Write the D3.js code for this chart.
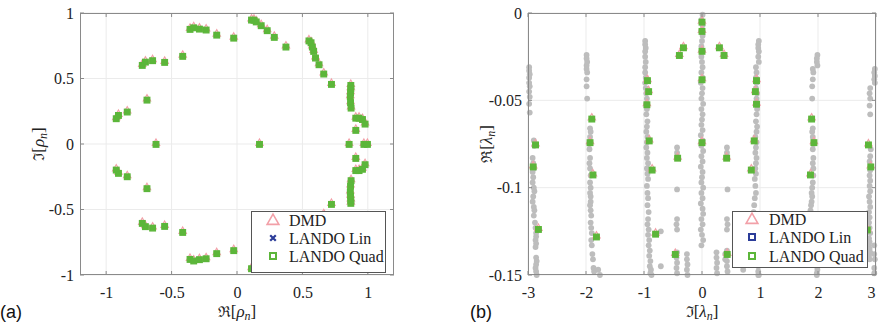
<!DOCTYPE html>
<html><head><meta charset="utf-8">
<script src="https://cdn.jsdelivr.net/npm/d3@7"></script>
<style>body{margin:0;background:#fff}svg{display:block}</style>
</head><body><div id="chart"></div>
<script>
// ---------- DATA ----------
// Panel (a): discrete-time eigenvalues rho_n (real, imag)
const rhoRe = [-0.923,-0.906,-0.839,-0.688,-0.724,-0.70,-0.645,-0.553,-0.415,-0.359,-0.331,-0.287,-0.236,-0.155,-0.025,
  0.111,0.13,0.147,0.185,0.231,0.285,0.374,0.55,0.566,0.576,0.586,0.60,0.627,0.663,0.722,
  0.87,0.87,0.868,0.866,0.868,0.872,0.908,0.933,0.959,0.979,0.908,
  -0.923,-0.906,-0.839,-0.688,-0.724,-0.70,-0.645,-0.553,-0.415,-0.359,-0.331,-0.287,-0.236,-0.155,-0.025,
  0.111,0.13,0.147,0.185,0.231,0.285,0.374,0.55,0.566,0.576,0.586,0.60,0.627,0.663,0.722,
  0.87,0.87,0.868,0.866,0.868,0.872,0.908,0.933,0.959,0.979,0.908,
  -0.619,0.172,0.857,0.97,0.997];
const rhoIm = [0.196,0.221,0.247,0.338,0.603,0.628,0.639,0.626,0.672,0.878,0.89,0.88,0.873,0.834,0.811,
  0.949,0.948,0.935,0.906,0.868,0.817,0.743,0.79,0.776,0.743,0.71,0.659,0.608,0.537,0.458,
  0.45,0.425,0.395,0.364,0.318,0.277,0.2,0.2,0.19,0.155,0.107,
  -0.196,-0.221,-0.247,-0.338,-0.603,-0.628,-0.639,-0.626,-0.672,-0.878,-0.89,-0.88,-0.873,-0.834,-0.811,
  -0.949,-0.948,-0.935,-0.906,-0.868,-0.817,-0.743,-0.79,-0.776,-0.743,-0.71,-0.659,-0.608,-0.537,-0.458,
  -0.45,-0.425,-0.395,-0.364,-0.318,-0.277,-0.2,-0.2,-0.19,-0.155,-0.107,
  0,0,0,0,0];

// Panel (b): continuous-time eigenvalues lambda_n (imag on x, real on y)
const lamIm = [-2.87,-2.91,-2.82,-1.90,-1.93,-1.88,-1.82,-0.94,-0.92,-0.95,-0.91,-0.86,-0.80,
  -0.39,-0.32,-0.42,-0.46,0,0,0,0,0,0.30,0.38,0.425,0.435,
  0.94,0.92,0.94,0.90,0.85,0.80,1.89,1.93,1.87,1.82,2.87,2.91,2.85];
const lamRe = [-0.0753,-0.0879,-0.1237,-0.0605,-0.074,-0.0925,-0.128,-0.0385,-0.0448,-0.0523,-0.073,-0.0897,-0.1264,
  -0.0241,-0.0197,-0.0829,-0.138,-0.005,-0.0103,-0.0217,-0.038,-0.074,-0.0197,-0.0241,-0.0829,-0.138,
  -0.0385,-0.0448,-0.052,-0.073,-0.0897,-0.1264,-0.0605,-0.074,-0.0925,-0.128,-0.0753,-0.0879,-0.124];

// grey background eigenvalues (imag on x, real on y)
const greyIm = [
  -2.98,-2.98,-2.97,-2.98,-2.98,-2.97,-2.98,-2.97,-2.98,-2.97,
  -2.90,-2.89,-2.92,-2.91,-2.90,-2.92,-2.91,-2.92,-2.90,-2.89,-2.91,-2.92,-2.90,-2.89,-2.90,-2.88,-2.87,-2.86,-2.86,-2.87,-2.86,-2.87,-2.86,-2.85,-2.86,-2.87,-2.86,-2.85,
  -1.99,-1.99,-1.98,-1.99,-1.99,-1.98,-1.99,-1.99,-1.98,
  -1.93,-1.92,-1.93,-1.94,-1.94,-1.93,-1.94,-1.93,-1.92,-1.93,-1.92,-1.93,-1.92,-1.92,-1.93,-1.92,-1.91,-1.92,-1.91,-1.90,-1.91,-1.90,-1.89,-1.88,-1.87,-1.86,-1.79,-1.76,
  -0.98,-0.98,-0.97,-0.98,-0.98,-0.97,-0.98,-0.98,-0.97,-0.98,-0.97,
  -0.96,-0.95,-0.96,-0.95,-0.96,-0.94,-0.95,-0.96,-0.94,-0.95,-0.96,-0.94,-0.95,-0.93,-0.95,-0.94,-0.93,-0.95,-0.94,-0.93,-0.94,-0.92,-0.93,-0.94,-0.92,-0.93,-0.91,-0.92,-0.90,-0.91,-0.89,-0.90,-0.88,-0.89,-0.87,
  -0.71,-0.71,
  -0.43,-0.43,-0.43,-0.43,-0.44,-0.43,-0.43,-0.44,-0.43,-0.44,-0.43,
  -0.26,-0.26,-0.25,-0.26,-0.25,
  0.01,-0.01,0.01,-0.01,0.01,0.0,-0.01,0.01,-0.01,0.0,0.01,-0.01,0.01,-0.02,0.01,0.0,-0.01,0.02,-0.01,0.01,0.0,-0.01,0.01,-0.02,0.01,
  -0.01,0.02,-0.01,0.01,-0.02,0.01,0.0,-0.01,0.02,-0.01,0.01,-0.02,0.01,0.02,-0.01,0.01,-0.02,0.0,0.02,-0.01,
  0.43,0.43,0.43,0.43,0.44,0.43,0.43,0.44,0.43,0.44,0.43,
  0.25,0.25,0.26,0.25,0.26,0.40,0.40,
  0.71,0.71,
  0.97,0.97,0.98,0.97,0.97,0.98,0.97,0.97,0.98,0.97,0.98,
  0.93,0.94,0.93,0.94,0.93,0.95,0.94,0.93,0.95,0.94,0.93,0.95,0.94,0.92,0.94,0.93,0.92,0.94,0.93,0.92,0.93,0.91,0.92,0.93,0.91,0.90,0.89,0.90,0.88,0.87,0.88,0.86,0.85,0.86,0.85,
  1.98,1.98,1.99,1.98,1.98,1.99,1.98,1.98,1.99,
  1.91,1.92,1.91,1.90,1.90,1.91,1.90,1.91,1.92,1.91,1.92,1.91,1.92,1.92,1.91,1.90,1.89,1.90,1.89,1.88,1.87,1.86,1.85,1.84,1.83,1.82,
  2.97,2.97,2.98,2.97,2.97,2.98,2.97,2.98,2.97,2.98,
  2.90,2.89,2.90,2.89,2.90,2.91,2.90,2.89,2.90,2.89,2.90,2.89,2.90,2.88,2.89,2.90,2.88,2.89,2.88,2.89,2.90,2.88,2.89,2.88,2.89,2.90,2.88,2.89];
const greyRe = [
  -0.031,-0.033,-0.035,-0.037,-0.040,-0.042,-0.045,-0.048,-0.052,-0.057,
  -0.073,-0.076,-0.083,-0.086,-0.089,-0.091,-0.094,-0.097,-0.100,-0.102,-0.105,-0.108,-0.111,-0.113,-0.116,-0.120,-0.123,-0.126,-0.128,-0.130,-0.132,-0.134,-0.140,-0.142,-0.144,-0.146,-0.148,-0.150,
  -0.024,-0.026,-0.028,-0.030,-0.032,-0.034,-0.038,-0.042,-0.049,
  -0.066,-0.068,-0.071,-0.075,-0.078,-0.083,-0.086,-0.089,-0.093,-0.097,-0.100,-0.103,-0.105,-0.108,-0.110,-0.113,-0.116,-0.120,-0.123,-0.126,-0.130,-0.133,-0.138,-0.141,-0.146,-0.148,-0.147,-0.150,
  -0.016,-0.018,-0.020,-0.022,-0.025,-0.028,-0.031,-0.034,-0.037,-0.040,-0.043,
  -0.046,-0.049,-0.052,-0.055,-0.058,-0.062,-0.065,-0.068,-0.071,-0.074,-0.077,-0.080,-0.083,-0.086,-0.089,-0.092,-0.095,-0.099,-0.103,-0.106,-0.110,-0.114,-0.118,-0.121,-0.124,-0.127,-0.130,-0.133,-0.136,-0.139,-0.142,-0.145,-0.147,-0.149,-0.150,
  -0.125,-0.145,
  -0.077,-0.080,-0.101,-0.118,-0.121,-0.124,-0.137,-0.140,-0.143,-0.146,-0.149,
  -0.138,-0.141,-0.144,-0.147,-0.150,
  -0.001,-0.004,-0.007,-0.010,-0.013,-0.016,-0.019,-0.022,-0.025,-0.028,-0.031,-0.034,-0.037,-0.040,-0.043,-0.046,-0.049,-0.052,-0.055,-0.058,-0.061,-0.064,-0.067,-0.070,-0.073,
  -0.076,-0.079,-0.082,-0.085,-0.088,-0.091,-0.094,-0.097,-0.100,-0.103,-0.106,-0.109,-0.112,-0.115,-0.118,-0.121,-0.124,-0.127,-0.130,-0.133,-0.136,-0.139,-0.142,-0.145,-0.148,
  -0.077,-0.080,-0.101,-0.118,-0.121,-0.124,-0.137,-0.140,-0.143,-0.146,-0.149,
  -0.138,-0.141,-0.144,-0.147,-0.150,-0.148,-0.150,
  -0.125,-0.145,
  -0.016,-0.018,-0.020,-0.022,-0.025,-0.028,-0.031,-0.034,-0.037,-0.040,-0.043,
  -0.046,-0.049,-0.052,-0.055,-0.058,-0.062,-0.065,-0.068,-0.071,-0.074,-0.077,-0.080,-0.083,-0.086,-0.089,-0.092,-0.095,-0.099,-0.103,-0.106,-0.110,-0.114,-0.118,-0.121,-0.124,-0.127,-0.130,-0.133,-0.136,-0.139,-0.142,-0.145,-0.147,-0.149,-0.150,
  -0.024,-0.026,-0.028,-0.030,-0.032,-0.034,-0.038,-0.042,-0.049,
  -0.066,-0.068,-0.071,-0.075,-0.078,-0.083,-0.086,-0.089,-0.093,-0.097,-0.100,-0.103,-0.105,-0.108,-0.110,-0.113,-0.116,-0.120,-0.123,-0.126,-0.130,-0.133,-0.138,-0.141,-0.146,-0.149,
  -0.032,-0.034,-0.036,-0.038,-0.040,-0.043,-0.046,-0.049,-0.053,-0.058,
  -0.078,-0.082,-0.085,-0.090,-0.093,-0.096,-0.099,-0.102,-0.105,-0.108,-0.111,-0.114,-0.117,-0.120,-0.123,-0.126,-0.129,-0.131,-0.133,-0.135,-0.137,-0.139,-0.141,-0.143,-0.145,-0.147,-0.149,-0.150];

const ticksAx = [-1,-0.5,0,0.5,1], ticksAy = [-1,-0.5,0,0.5,1];
const ticksBx = [-3,-2,-1,0,1,2,3], ticksBy = [-0.15,-0.1,-0.05,0];
const legendLabels = ["DMD","LANDO Lin","LANDO Quad"];

// ---------- DRAW ----------
const W=878,H=324;
const svg=d3.select("#chart").append("svg").attr("width",W).attr("height",H);
const SERIF="'Liberation Serif','Times New Roman',serif";
const GREEN="#5cb63a", PINK="#f2a0a8", BLUE="#2b3c99", GREY="#bdbdbd", BOX="#8a8a8a";

function panel(x0,x1,y0,y1,xd,yd,xt,yt){
  const x=d3.scaleLinear().domain(xd).range([x0,x1]);
  const y=d3.scaleLinear().domain(yd).range([y1,y0]);
  const g=svg.append("g");
  g.selectAll(".gx").data(xt).join("line").attr("x1",d=>x(d)).attr("x2",d=>x(d)).attr("y1",y0).attr("y2",y1).attr("stroke","#ebebeb");
  g.selectAll(".gy").data(yt).join("line").attr("y1",d=>y(d)).attr("y2",d=>y(d)).attr("x1",x0).attr("x2",x1).attr("stroke","#ebebeb");
  const fmt=d=>String(d);
  const ax=d3.axisBottom(x).tickValues(xt).tickFormat(fmt).tickSize(0).tickPadding(12);
  const gx=g.append("g").attr("transform",`translate(0,${y1})`).call(ax).call(s=>{s.select(".domain").remove();s.selectAll("text").attr("font-family",SERIF).attr("font-size",16).attr("fill","#222");});
  const ay=d3.axisLeft(y).tickValues(yt).tickFormat(fmt).tickSize(0).tickPadding(6);
  g.append("g").attr("transform",`translate(${x0},0)`).call(ay).call(s=>{s.select(".domain").remove();s.selectAll("text").attr("font-family",SERIF).attr("font-size",16).attr("fill","#222");});
  return {x,y,g,gx,x0,x1,y0,y1,xt,yt};
}
function frame(p){
  const g=svg.append("g");
  g.append("rect").attr("x",p.x0+0.5).attr("y",p.y0+0.5).attr("width",p.x1-p.x0-1).attr("height",p.y1-p.y0-1).attr("fill","none").attr("stroke",BOX);
  p.xt.forEach(d=>{g.append("line").attr("x1",p.x(d)).attr("x2",p.x(d)).attr("y1",p.y1).attr("y2",p.y1-4).attr("stroke",BOX);
    g.append("line").attr("x1",p.x(d)).attr("x2",p.x(d)).attr("y1",p.y0).attr("y2",p.y0+4).attr("stroke",BOX);});
  p.yt.forEach(d=>{g.append("line").attr("y1",p.y(d)).attr("y2",p.y(d)).attr("x1",p.x0).attr("x2",p.x0+4).attr("stroke",BOX);
    g.append("line").attr("y1",p.y(d)).attr("y2",p.y(d)).attr("x1",p.x1).attr("x2",p.x1-4).attr("stroke",BOX);});
}
const tri=d3.symbol().type(d3.symbolTriangle).size(24)();
function markers(p,xs,ys){
  const idx=d3.range(xs.length);
  p.g.selectAll(null).data(idx).join("path").attr("d",tri).attr("transform",i=>`translate(${p.x(xs[i])},${p.y(ys[i])-0.8})`).attr("fill","none").attr("stroke",PINK).attr("stroke-width",1.1);
  p.g.selectAll(null).data(idx).join("rect").attr("x",i=>p.x(xs[i])-2.8).attr("y",i=>p.y(ys[i])-2.4).attr("width",5.6).attr("height",5.6).attr("fill",GREEN).attr("stroke",GREEN).attr("stroke-width",1.3);
}
function legend(p,bx,by,bw,bh,rows,mx,tx,linStyle){
  const g=svg.append("g");
  g.append("rect").attr("x",bx+0.5).attr("y",by+0.5).attr("width",bw).attr("height",bh).attr("fill","#fff").attr("stroke","#555").attr("stroke-width",1);
  g.append("path").attr("d",d3.symbol().type(d3.symbolTriangle).size(60)()).attr("transform",`translate(${mx},${rows[0]+1})`).attr("fill","none").attr("stroke",PINK).attr("stroke-width",1.6);
  if(linStyle==="x"){
    g.append("path").attr("d",d3.symbol().type(d3.symbolX).size(22)()).attr("transform",`translate(${mx},${rows[1]})`).attr("fill","none").attr("stroke",BLUE).attr("stroke-width",2.2);
  } else {
    g.append("rect").attr("x",mx-3).attr("y",rows[1]-3).attr("width",6).attr("height",6).attr("fill","none").attr("stroke",BLUE).attr("stroke-width",2);
  }
  g.append("rect").attr("x",mx-3).attr("y",rows[2]-3).attr("width",6).attr("height",6).attr("fill","none").attr("stroke",GREEN).attr("stroke-width",2);
  legendLabels.forEach((t,i)=>g.append("text").attr("x",tx).attr("y",rows[i]+5.5).text(t).attr("font-family",SERIF).attr("font-size",16).attr("fill","#222"));
}
function label(x,y,parts,rot){
  const t=svg.append("text").attr("x",x).attr("y",y).attr("text-anchor","middle").attr("font-size",17).attr("fill","#222").attr("font-family",SERIF);
  if(rot) t.attr("transform",`rotate(-90,${x},${y})`);
  t.append("tspan").attr("font-family","'DejaVu Serif',serif").attr("font-size",15).text(parts[0]);
  t.append("tspan").text("[");
  t.append("tspan").attr("font-style","italic").text(parts[1]);
  t.append("tspan").attr("font-style","italic").attr("font-size",12).attr("dy",3).text("n");
  t.append("tspan").attr("dy",-3).text("]");
}

// Panel (a)
const pa=panel(80,394,13,275,[-1.2,1.2],[-1,1],ticksAx,ticksAy);
markers(pa,rhoRe,rhoIm);
frame(pa);
legend(pa,251,211,134,61,[220,238,256],273,289,"x");
label(237,317,["ℜ","ρ"],false);
label(44,144,["ℑ","ρ"],true);
svg.append("text").attr("x",0).attr("y",318).text("(a)").attr("font-family","'Liberation Sans',Arial,sans-serif").attr("font-size",18).attr("fill","#111");

// Panel (b)
const pb=panel(528,876,13,275,[-3,3],[-0.15,0],ticksBx,ticksBy);
pb.gx.selectAll("g.tick text").filter(d=>d===3).attr("text-anchor","end").attr("dx",-1);
pb.g.selectAll(null).data(d3.range(greyIm.length)).join("circle").attr("cx",i=>pb.x(greyIm[i])).attr("cy",i=>pb.y(greyRe[i])).attr("r",2.9).attr("fill",GREY);
markers(pb,lamIm,lamRe);
frame(pb);
legend(pb,732,211,135,56,[219,237,256],752,769,"sq");
label(702,317,["ℑ","λ"],false);
label(492,144,["ℜ","λ"],true);
svg.append("text").attr("x",470).attr("y",318).text("(b)").attr("font-family","'Liberation Sans',Arial,sans-serif").attr("font-size",18).attr("fill","#111");
</script></body></html>
